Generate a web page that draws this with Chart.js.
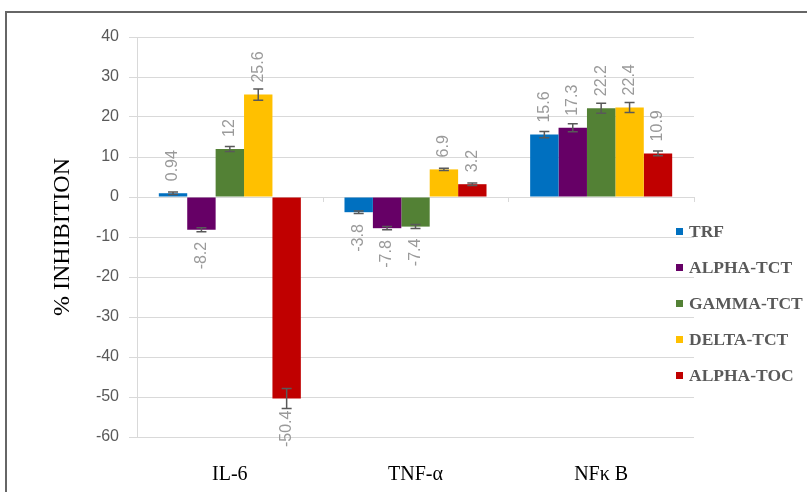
<!DOCTYPE html>
<html lang="en">
<head>
  <meta charset="UTF-8">
  <title>% Inhibition</title>
  <script src="https://cdn.jsdelivr.net/npm/chart.js"></script>
  <style>
    * {
      margin: 0;
      padding: 0;
      box-sizing: border-box;
    }

    body {
      width: 807px;
      height: 492px;
      background: #fff;
      overflow: hidden;
      position: relative;
    }

    /* outer frame, only top and left edges show */
    .frame {
      position: absolute;
      left: 5px;
      top: 11px;
      width: 900px;
      height: 600px;
      border: 2px solid #666;
    }

    .chart-box {
      position: absolute;
      left: 0;
      top: 0;
      width: 807px;
      height: 492px;
    }

    /* Legend */
    .legend {
      position: absolute;
      left: 676px;
      top: 213px;
      list-style: none;
    }

    .legend li {
      height: 36px;
      display: flex;
      align-items: center;
      font-family: 'Liberation Serif', 'Times New Roman', serif;
      font-weight: bold;
      font-size: 17.5px;
      color: #595959;
      white-space: nowrap;
    }

    .legend .swatch {
      width: 7px;
      height: 7px;
      margin-right: 6px;
    }
  </style>
</head>
<body>
  <div class="frame"></div>
  <div class="chart-box">
    <canvas id="inhibitionChart" width="807" height="492"></canvas>
  </div>
  <ul class="legend" id="legend"></ul>

  <script>
    // categories and series
    const categories = ['IL-6', 'TNF-α', 'NFκ B'];
    const seriesNames = ['TRF', 'ALPHA-TCT', 'GAMMA-TCT', 'DELTA-TCT', 'ALPHA-TOC'];
    const seriesColors = ['#0070C0', '#660066', '#538135', '#FFC000', '#C00000'];

    const trf      = [0.94, -3.8, 15.6];
    const alphaTct = [-8.2, -7.8, 17.3];
    const gammaTct = [12, -7.4, 22.2];
    const deltaTct = [25.6, 6.9, 22.4];
    const alphaToc = [-50.4, 3.2, 10.9];

    // error bar half-widths
    const trfErr      = [0.3, 0.3, 0.8];
    const alphaTctErr = [0.5, 0.4, 1.0];
    const gammaTctErr = [0.6, 0.5, 1.25];
    const deltaTctErr = [1.4, 0.3, 1.25];
    const alphaTocErr = [2.5, 0.3, 0.6];

    // y axis ticks
    const yMin = -60;
    const yMax = 40;
    const yStep = 10;

    const seriesValues = [trf, alphaTct, gammaTct, deltaTct, alphaToc];
    const seriesErrors = [trfErr, alphaTctErr, gammaTctErr, deltaTctErr, alphaTocErr];

    // Error bars, rotated value labels and the small ticks on the zero line
    const errorBarsAndLabels = {
      id: 'errorBarsAndLabels',
      afterDatasetsDraw(chart) {
        const ctx = chart.ctx;
        const yScale = chart.scales.y;
        const area = chart.chartArea;

        chart.data.datasets.forEach((ds, i) => {
          const meta = chart.getDatasetMeta(i);
          meta.data.forEach((bar, j) => {
            const v = ds.data[j];
            const e = ds.errors[j];
            const yHi = yScale.getPixelForValue(v + e);
            const yLo = yScale.getPixelForValue(v - e);

            ctx.save();
            ctx.strokeStyle = '#595959';
            ctx.lineWidth = 1.5;
            ctx.beginPath();
            ctx.moveTo(bar.x, yHi);
            ctx.lineTo(bar.x, yLo);
            ctx.moveTo(bar.x - 5, yHi);
            ctx.lineTo(bar.x + 5, yHi);
            ctx.moveTo(bar.x - 5, yLo);
            ctx.lineTo(bar.x + 5, yLo);
            ctx.stroke();
            ctx.restore();

            ctx.save();
            ctx.fillStyle = '#9a9a9a';
            ctx.font = "16px 'Liberation Sans', Arial, sans-serif";
            ctx.textBaseline = 'middle';
            ctx.translate(bar.x, bar.y + (v >= 0 ? -12 : 12));
            ctx.rotate(-Math.PI / 2);
            ctx.textAlign = v >= 0 ? 'left' : 'right';
            ctx.fillText(String(v), 0, 0);
            ctx.restore();
          });
        });

        // category tick marks sitting on the zero line
        const zeroY = yScale.getPixelForValue(0);
        const step = (area.right - area.left) / categories.length;
        ctx.save();
        ctx.strokeStyle = '#d9d9d9';
        ctx.lineWidth = 1;
        ctx.beginPath();
        for (let k = 0; k <= categories.length; k++) {
          const x = Math.round(area.left + k * step) + 0.5;
          ctx.moveTo(x, zeroY);
          ctx.lineTo(x, zeroY + 5);
        }
        ctx.stroke();
        ctx.restore();
      }
    };

    const ctx = document.getElementById('inhibitionChart').getContext('2d');
    new Chart(ctx, {
      type: 'bar',
      data: {
        labels: categories,
        datasets: seriesNames.map((name, i) => ({
          label: name,
          data: seriesValues[i],
          errors: seriesErrors[i],
          backgroundColor: seriesColors[i],
          borderWidth: 0,
          barPercentage: 1,
          categoryPercentage: 0.765,
        })),
      },
      options: {
        responsive: false,
        animation: false,
        layout: { padding: { left: 0, right: 113, top: 37, bottom: 0 } },
        plugins: {
          legend: { display: false },
          tooltip: { enabled: false },
        },
        scales: {
          x: {
            grid: { display: false },
            border: { display: false },
            ticks: {
              font: { family: "'Liberation Serif', 'Times New Roman', serif", size: 20 },
              color: '#000',
              padding: 18,
            },
            afterFit: (s) => { s.height = 55; },
          },
          y: {
            min: yMin,
            max: yMax,
            ticks: {
              stepSize: yStep,
              font: { family: "'Liberation Sans', Arial, sans-serif", size: 16 },
              color: '#595959',
              padding: 10,
            },
            grid: { color: '#d9d9d9', tickLength: 8 },
            border: { color: '#d9d9d9' },
            title: {
              display: true,
              text: '% INHIBITION',
              font: { family: "'Liberation Serif', 'Times New Roman', serif", size: 24 },
              color: '#000',
              padding: { top: 48, bottom: 0 },
            },
            afterFit: (s) => { s.width = 137; },
          },
        },
      },
      plugins: [errorBarsAndLabels],
    });

    // HTML legend
    const legendEl = document.getElementById('legend');
    seriesNames.forEach((name, i) => {
      const li = document.createElement('li');
      const sw = document.createElement('span');
      sw.className = 'swatch';
      sw.style.background = seriesColors[i];
      li.appendChild(sw);
      li.appendChild(document.createTextNode(name));
      legendEl.appendChild(li);
    });
  </script>
</body>
</html>
